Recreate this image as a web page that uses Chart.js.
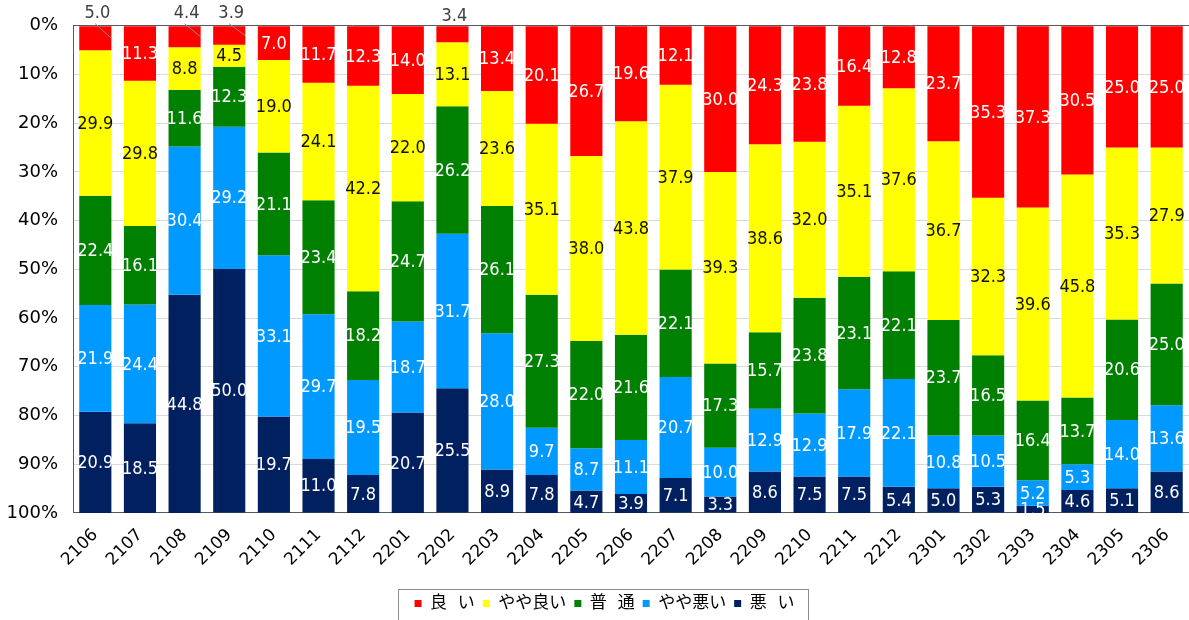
<!DOCTYPE html>
<html><head><meta charset="utf-8">
<script src="https://cdn.jsdelivr.net/npm/chart.js@4/dist/chart.umd.min.js"></script>
<style>html,body{margin:0;padding:0;background:#fff;overflow:hidden}</style>
</head><body>
<canvas id="c" width="1189" height="620"></canvas>
<script>
const categories = ['2106','2107','2108','2109','2110','2111','2112','2201','2202','2203','2204','2205','2206','2207','2208','2209','2210','2211','2212','2301','2302','2303','2304','2305','2306'];
const seriesNames = ['良  い','やや良い','普  通','やや悪い','悪  い'];
const good     = [5.0,11.3,4.4,3.9,7.0,11.7,12.3,14.0,3.4,13.4,20.1,26.7,19.6,12.1,30.0,24.3,23.8,16.4,12.8,23.7,35.3,37.3,30.5,25.0,25.0];
const ratherGood = [29.9,29.8,8.8,4.5,19.0,24.1,42.2,22.0,13.1,23.6,35.1,38.0,43.8,37.9,39.3,38.6,32.0,35.1,37.6,36.7,32.3,39.6,45.8,35.3,27.9];
const normal   = [22.4,16.1,11.6,12.3,21.1,23.4,18.2,24.7,26.2,26.1,27.3,22.0,21.6,22.1,17.3,15.7,23.8,23.1,22.1,23.7,16.5,16.4,13.7,20.6,25.0];
const ratherBad = [21.9,24.4,30.4,29.2,33.1,29.7,19.5,18.7,31.7,28.0,9.7,8.7,11.1,20.7,10.0,12.9,12.9,17.9,22.1,10.8,10.5,5.2,5.3,14.0,13.6];
const bad      = [20.9,18.5,44.8,50.0,19.7,11.0,7.8,20.7,25.5,8.9,7.8,4.7,3.9,7.1,3.3,8.6,7.5,7.5,5.4,5.0,5.3,1.5,4.6,5.1,8.6];
const yTicks = [0,10,20,30,40,50,60,70,80,90,100];
const leaderLineCats = ['2106','2108','2109'];

const colors = ['#FF0000','#FFFF00','#008000','#0099FF','#002060'];
const labelColors = ['#ffffff','#111111','#ffffff','#ffffff','#ffffff'];
const FONT = '"DejaVu Sans", "Noto Sans CJK JP", sans-serif';
const LABEL_FONT = '18px "DejaVu Sans Condensed", "DejaVu Sans", sans-serif';

const labelPlugin = {
  id: 'segLabels',
  afterDatasetsDraw(chart) {
    const ctx = chart.ctx, area = chart.chartArea;
    ctx.save();
    ctx.font = LABEL_FONT;
    ctx.textAlign = 'center';
    ctx.textBaseline = 'middle';
    chart.data.datasets.forEach((ds, i) => {
      const meta = chart.getDatasetMeta(i);
      meta.data.forEach((el, j) => {
        const v = ds.data[j];
        const cy = (el.y + el.base) / 2;
        const txt = v.toFixed(1);
        if (i === 0 && v < 6) {
          const hasLine = leaderLineCats.includes(categories[j]);
          const ly = hasLine ? area.top - 12 : area.top - 9;
          ctx.fillStyle = '#404040';
          ctx.fillText(txt, el.x + 2, ly);
          if (hasLine) {
            ctx.strokeStyle = '#8c8c8c';
            ctx.lineWidth = 1;
            ctx.beginPath();
            ctx.moveTo(el.x, ly + 10);
            ctx.lineTo(el.x + el.width / 2, cy);
            ctx.stroke();
          }
        } else {
          ctx.save();
          ctx.beginPath();
          ctx.rect(area.left, area.top, area.right - area.left, area.bottom - area.top);
          ctx.clip();
          ctx.fillStyle = labelColors[i];
          ctx.fillText(txt, el.x, cy + 1);
          ctx.restore();
        }
      });
    });
    ctx.restore();
  }
};

const legendBoxPlugin = {
  id: 'legendBox',
  afterLayout(chart) {
    const lg = chart.legend;
    if (lg) { lg.left += 10; lg.right += 10; }
  },
  afterDraw(chart) {
    const lg = chart.legend;
    if (!lg || !lg.lineWidths) return;
    const pad = lg.options.labels.padding;
    const lw = lg.lineWidths[0];
    const startX = (lg.left + pad + lg.right - lw) / 2;
    const left = startX - 17;
    const right = startX + lw - pad + 13;
    const hb = lg.legendHitBoxes[0];
    const top = hb.top + hb.height / 2 - 15;
    const ctx = chart.ctx;
    ctx.save();
    ctx.strokeStyle = '#8c8c8c';
    ctx.lineWidth = 1;
    ctx.strokeRect(Math.round(left) + 0.5, Math.round(top) + 0.5, Math.round(right - left), 60);
    ctx.restore();
  }
};

const datasets = [good, ratherGood, normal, ratherBad, bad].map((d, i) => ({
  label: seriesNames[i],
  data: d,
  backgroundColor: colors[i],
  borderWidth: 0,
  barPercentage: 0.72,
  categoryPercentage: 1.0
}));

new Chart(document.getElementById('c'), {
  type: 'bar',
  data: { labels: categories, datasets },
  options: {
    responsive: false,
    devicePixelRatio: 1,
    animation: false,
    layout: { padding: { top: 24, right: 0, left: 0, bottom: -2 } },
    plugins: {
      legend: {
        position: 'bottom',
        labels: {
          boxWidth: 7, boxHeight: 7,
          font: { family: FONT, size: 17 },
          color: '#000',
          padding: 8
        }
      },
      tooltip: { enabled: false }
    },
    scales: {
      x: {
        stacked: true,
        grid: { display: false },
        border: { display: true, color: '#595959', width: 1 },
        ticks: { color: '#000', font: { family: FONT, size: 17 }, minRotation: 45, maxRotation: 45, padding: 4 },
        afterFit(scale) { scale.height = scale.height + 13; }
      },
      y: {
        stacked: true,
        reverse: true,
        min: 0, max: 100,
        afterBuildTicks(scale) { scale.ticks = yTicks.map(v => ({ value: v })); },
        afterFit(scale) { scale.width = 73; },
        grid: {
          drawTicks: false,
          color: c => (c.tick && (c.tick.value === 0 || c.tick.value === 100)) ? '#595959' : '#d9d9d9',
          lineWidth: 1
        },
        border: { display: true, color: '#595959', width: 1 },
        ticks: { color: '#000', font: { family: FONT, size: 18 }, padding: 15, callback: v => v + '%' }
      }
    }
  },
  plugins: [labelPlugin, legendBoxPlugin]
});
</script>
</body></html>
